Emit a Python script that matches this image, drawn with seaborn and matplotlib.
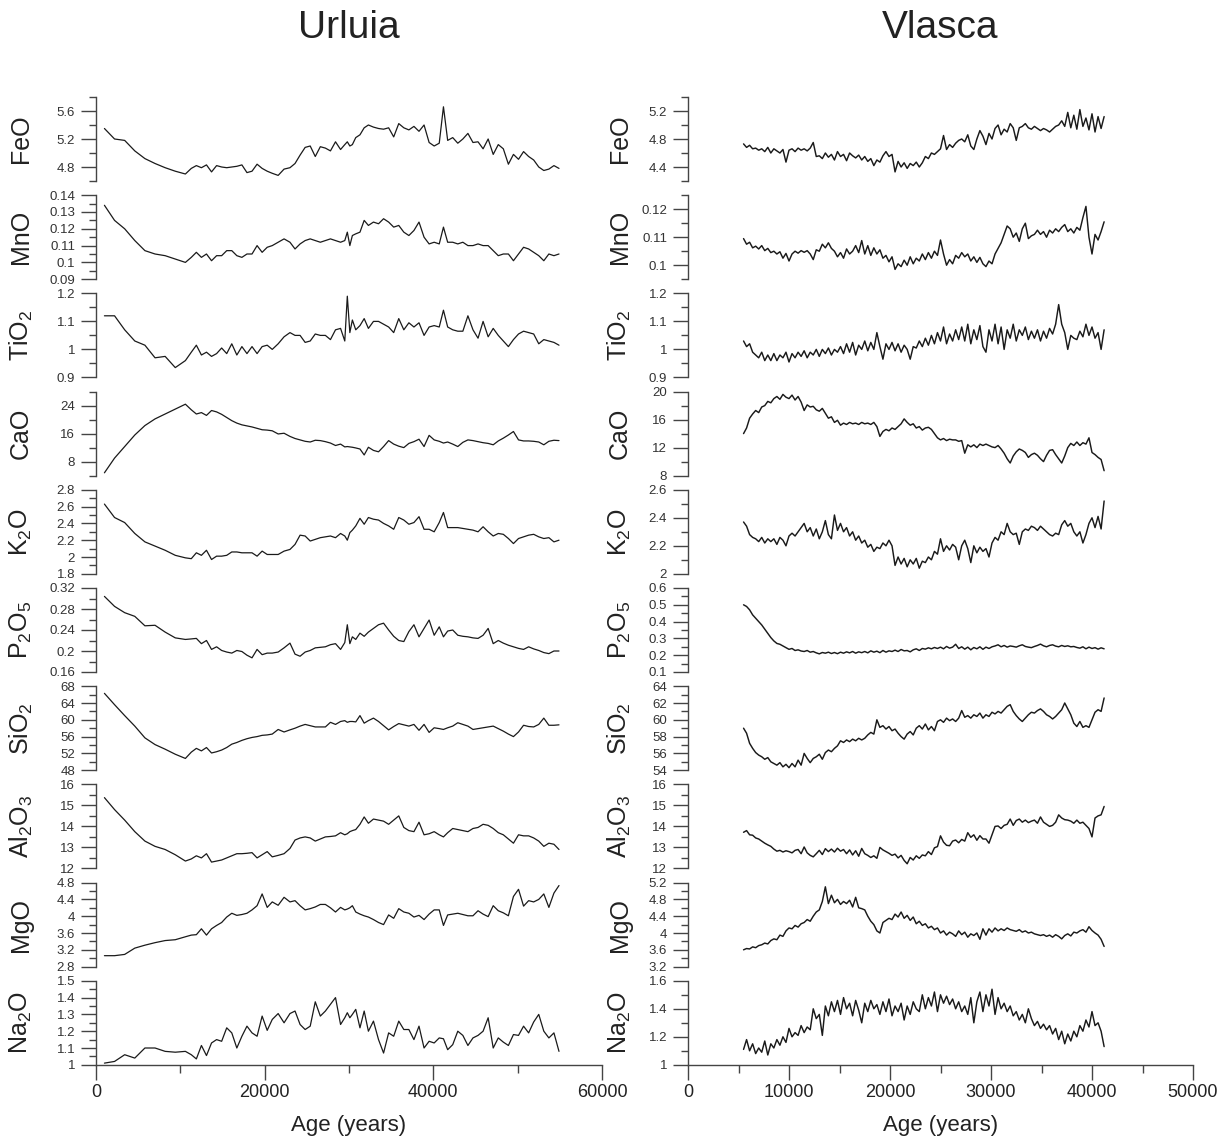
import matplotlib.pyplot as plt
import seaborn as sns
import numpy as np
import pandas as pd
from matplotlib.ticker import MultipleLocator, FuncFormatter

sns.set_theme(style='ticks')
plt.rcParams['font.family'] = ['Liberation Sans', 'DejaVu Sans']
plt.rcParams['mathtext.default'] = 'regular'

# NOTE: element names, subscripts through mathtext
oxides = ['FeO', 'MnO', 'TiO$_2$', 'CaO', 'K$_2$O', 'P$_2$O$_5$',
          'SiO$_2$', 'Al$_2$O$_3$', 'MgO', 'Na$_2$O']

# ---------------- Urluia (sample ages, years) ----------------
u_age = [1000, 2200, 3400, 4600, 5800, 7000, 8200, 9400, 10600, 11300,
         11900, 12500, 13100, 13700, 14300, 14900, 15500, 16100, 16700, 17300,
         17900, 18500, 19100, 19700, 20300, 20900, 21600, 22300, 23000, 23600,
         24200, 24800, 25400, 26000, 26600, 27200, 27800, 28400, 29000, 29500,
         29800, 30100, 30400, 30800, 31300, 31800, 32300, 32900, 33500, 34100,
         34700, 35300, 35900, 36500, 37100, 37700, 38300, 38900, 39500, 40100,
         40700, 41200, 41700, 42300, 42900, 43500, 44100, 44700, 45300, 45900,
         46500, 47100, 47700, 48300, 48900, 49500, 50100, 50700, 51300, 51900,
         52500, 53100, 53700, 54300, 54900]

u_feo = [5.35, 5.20, 5.18, 5.03, 4.92, 4.85, 4.79, 4.74, 4.70, 4.78,
         4.82, 4.79, 4.83, 4.73, 4.82, 4.80, 4.79, 4.80, 4.81, 4.83,
         4.72, 4.74, 4.84, 4.78, 4.74, 4.71, 4.68, 4.77, 4.79, 4.85,
         4.97, 5.08, 5.10, 4.95, 5.09, 5.07, 5.03, 5.16, 5.05, 5.12,
         5.16, 5.10, 5.12, 5.22, 5.26, 5.36, 5.40, 5.37, 5.35, 5.34,
         5.36, 5.23, 5.42, 5.36, 5.33, 5.38, 5.31, 5.40, 5.15, 5.10,
         5.14, 5.66, 5.18, 5.22, 5.14, 5.20, 5.28, 5.15, 5.16, 5.06,
         5.20, 4.98, 5.12, 5.06, 4.84, 4.98, 4.91, 5.02, 4.95, 4.90,
         4.80, 4.75, 4.77, 4.82, 4.78]
u_mno = [0.134, 0.125, 0.120, 0.113, 0.107, 0.105, 0.104, 0.102, 0.100, 0.103,
         0.106, 0.103, 0.105, 0.101, 0.104, 0.104, 0.107, 0.107, 0.104, 0.103,
         0.105, 0.105, 0.110, 0.106, 0.109, 0.110, 0.112, 0.114, 0.112, 0.108,
         0.111, 0.113, 0.114, 0.113, 0.112, 0.113, 0.114, 0.113, 0.112, 0.113,
         0.118, 0.110, 0.116, 0.117, 0.118, 0.125, 0.122, 0.124, 0.123, 0.126,
         0.124, 0.121, 0.122, 0.118, 0.116, 0.119, 0.124, 0.115, 0.111, 0.112,
         0.111, 0.121, 0.112, 0.112, 0.111, 0.112, 0.110, 0.110, 0.111, 0.110,
         0.110, 0.107, 0.104, 0.105, 0.105, 0.101, 0.105, 0.109, 0.108, 0.106,
         0.104, 0.101, 0.105, 0.104, 0.105]
u_tio2 = [1.12, 1.12, 1.07, 1.03, 1.015, 0.97, 0.975, 0.935, 0.96, 0.99,
          1.015, 0.98, 0.99, 0.975, 0.985, 1.005, 0.985, 1.02, 0.98, 1.01,
          0.985, 1.01, 0.985, 1.01, 1.015, 1.0, 1.02, 1.045, 1.06, 1.05,
          1.05, 1.025, 1.03, 1.055, 1.05, 1.05, 1.035, 1.07, 1.075, 1.03,
          1.19, 1.06, 1.105, 1.07, 1.085, 1.11, 1.075, 1.10, 1.10, 1.09,
          1.08, 1.06, 1.11, 1.07, 1.095, 1.08, 1.095, 1.05, 1.08, 1.085,
          1.08, 1.14, 1.08, 1.07, 1.065, 1.065, 1.12, 1.07, 1.04, 1.10,
          1.045, 1.075, 1.05, 1.03, 1.01, 1.035, 1.055, 1.065, 1.06, 1.055,
          1.02, 1.035, 1.03, 1.025, 1.015]
u_cao = [4.8, 9.0, 12.3, 15.6, 18.3, 20.2, 21.6, 23.0, 24.4, 22.8,
         21.6, 22.0, 21.2, 22.6, 22.2, 21.5, 20.6, 19.7, 19.0, 18.5,
         18.2, 17.9, 17.5, 17.1, 17.0, 16.8, 15.9, 16.1, 15.2, 14.6,
         14.2, 13.8, 13.6, 14.1, 14.0, 13.7, 13.3, 12.6, 13.0, 12.2,
         12.3, 12.2, 12.1, 11.9, 11.6, 9.9, 12.1, 11.2, 10.8, 12.3,
         14.0, 13.0, 12.4, 12.0, 13.2, 13.7, 14.4, 12.3, 15.5, 14.2,
         13.8, 13.3, 13.6, 13.0, 12.3, 13.5, 14.2, 14.0, 13.7, 13.4,
         13.2, 12.8, 13.9, 14.7, 15.6, 16.6, 14.2, 13.9, 13.9, 13.8,
         13.6, 12.8, 13.8, 14.1, 14.0]
u_k2o = [2.63, 2.47, 2.41, 2.28, 2.18, 2.13, 2.08, 2.02, 1.99, 1.98,
         2.05, 2.02, 2.08, 1.97, 2.01, 2.01, 2.02, 2.06, 2.06, 2.05,
         2.05, 2.05, 2.01, 2.07, 2.03, 2.03, 2.03, 2.07, 2.09, 2.15,
         2.26, 2.25, 2.19, 2.21, 2.23, 2.24, 2.25, 2.23, 2.28, 2.25,
         2.20, 2.29, 2.32, 2.37, 2.46, 2.39, 2.47, 2.45, 2.44, 2.40,
         2.37, 2.33, 2.47, 2.44, 2.39, 2.41, 2.48, 2.33, 2.33, 2.30,
         2.41, 2.53, 2.35, 2.35, 2.35, 2.34, 2.33, 2.32, 2.30, 2.36,
         2.30, 2.25, 2.28, 2.27, 2.22, 2.16, 2.22, 2.24, 2.26, 2.27,
         2.24, 2.22, 2.23, 2.18, 2.20]
u_p2o5 = [0.304, 0.285, 0.273, 0.266, 0.248, 0.249, 0.236, 0.225, 0.222, 0.223,
          0.224, 0.214, 0.220, 0.203, 0.208, 0.201, 0.198, 0.196, 0.201, 0.199,
          0.192, 0.187, 0.203, 0.193, 0.196, 0.196, 0.198, 0.206, 0.215, 0.194,
          0.190, 0.198, 0.201, 0.206, 0.207, 0.208, 0.212, 0.214, 0.203, 0.216,
          0.250, 0.214, 0.227, 0.222, 0.234, 0.228, 0.236, 0.243, 0.250, 0.253,
          0.240, 0.228, 0.220, 0.218, 0.237, 0.250, 0.227, 0.243, 0.259, 0.230,
          0.246, 0.227, 0.238, 0.240, 0.230, 0.228, 0.227, 0.225, 0.224, 0.230,
          0.243, 0.214, 0.220, 0.215, 0.211, 0.208, 0.205, 0.203, 0.208, 0.204,
          0.201, 0.197, 0.195, 0.200, 0.200]
u_sio2 = [66.3, 63.6, 61.0, 58.5, 55.7, 54.1, 53.0, 51.8, 50.8, 52.3,
          53.2, 52.6, 53.4, 52.1, 52.4, 52.8, 53.4, 54.2, 54.6, 55.1,
          55.5, 55.8, 56.0, 56.3, 56.4, 56.6, 57.7, 57.1, 57.6, 58.0,
          58.5, 58.9, 58.6, 58.3, 58.3, 58.3, 59.4, 58.9, 59.6, 59.8,
          59.4, 59.6, 59.6, 59.5, 61.0, 59.2, 59.8, 60.4, 59.6, 58.6,
          57.6, 58.4, 59.1, 58.8, 58.5, 58.9, 57.5, 58.9, 57.0, 58.1,
          57.9, 57.7, 58.1, 58.5, 59.3, 58.9, 58.5, 57.7, 57.9, 58.1,
          58.3, 58.5, 57.9, 57.3, 56.6, 56.0, 57.1, 58.7, 58.4, 58.3,
          58.9, 60.4, 58.7, 58.7, 58.8]
u_al2o3 = [15.37, 14.8, 14.3, 13.75, 13.3, 13.05, 12.9, 12.65, 12.35, 12.45,
           12.6, 12.5, 12.7, 12.3, 12.35, 12.4, 12.5, 12.6, 12.7, 12.7,
           12.72, 12.75, 12.5, 12.65, 12.8, 12.55, 12.62, 12.7, 12.95, 13.35,
           13.45, 13.5, 13.45, 13.3, 13.4, 13.5, 13.52, 13.55, 13.7, 13.6,
           13.65, 13.75, 13.8, 13.85, 14.1, 14.45, 14.15, 14.35, 14.3, 14.25,
           14.1, 14.3, 14.5, 13.95, 13.8, 13.75, 14.2, 13.6, 13.65, 13.75,
           13.6, 13.5, 13.7, 13.9, 13.85, 13.8, 13.75, 13.9, 13.95, 14.1,
           14.05, 13.9, 13.7, 13.6, 13.4, 13.2, 13.6, 13.55, 13.55, 13.45,
           13.3, 13.05, 13.2, 13.15, 12.9]
u_mgo = [3.06, 3.06, 3.09, 3.24, 3.31, 3.37, 3.42, 3.44, 3.51, 3.55,
         3.56, 3.70, 3.55, 3.70, 3.78, 3.85, 3.98, 4.07, 4.02, 4.04,
         4.07, 4.15, 4.25, 4.53, 4.21, 4.34, 4.26, 4.45, 4.34, 4.37,
         4.25, 4.15, 4.18, 4.22, 4.28, 4.28, 4.20, 4.10, 4.21, 4.15,
         4.17, 4.20, 4.25, 4.10, 4.05, 4.01, 3.98, 3.92, 3.85, 3.80,
         4.03, 3.95, 4.18, 4.10, 4.07, 3.98, 4.02, 3.92, 4.05, 4.15,
         4.15, 3.78, 4.03, 4.05, 4.07, 4.04, 4.01, 4.01, 4.13, 4.05,
         3.99, 4.25, 4.13, 4.08, 4.01, 4.47, 4.64, 4.24, 4.37, 4.34,
         4.40, 4.53, 4.21, 4.55, 4.73]
u_na2o = [1.01, 1.02, 1.06, 1.04, 1.10, 1.10, 1.08, 1.075, 1.08, 1.06,
          1.035, 1.115, 1.055, 1.13, 1.15, 1.14, 1.22, 1.19, 1.10, 1.17,
          1.23, 1.19, 1.17, 1.29, 1.205, 1.27, 1.305, 1.25, 1.305, 1.32,
          1.24, 1.21, 1.23, 1.375, 1.29, 1.32, 1.36, 1.40, 1.24, 1.28,
          1.31, 1.28, 1.30, 1.33, 1.22, 1.32, 1.20, 1.26, 1.15, 1.07,
          1.19, 1.17, 1.26, 1.21, 1.21, 1.15, 1.23, 1.10, 1.14, 1.13,
          1.16, 1.155, 1.09, 1.12, 1.20, 1.175, 1.115, 1.16, 1.175, 1.20,
          1.28, 1.10, 1.16, 1.135, 1.115, 1.18, 1.175, 1.23, 1.19, 1.255,
          1.30, 1.20, 1.16, 1.19, 1.08]

# ---------------- Vlasca (regularly sampled record, every 300 yr) ----------------
v_age = np.arange(5500, 41300, 300)

v_feo = [4.73, 4.68, 4.71, 4.66, 4.67, 4.64, 4.66, 4.62, 4.68, 4.60,
         4.66, 4.63, 4.60, 4.65, 4.47, 4.64, 4.66, 4.62, 4.67, 4.64,
         4.66, 4.63, 4.67, 4.75, 4.55, 4.56, 4.52, 4.60, 4.54, 4.58,
         4.50, 4.62, 4.55, 4.58, 4.49, 4.60, 4.56, 4.53, 4.57, 4.50,
         4.55, 4.48, 4.52, 4.42, 4.50, 4.47, 4.56, 4.62, 4.55, 4.58,
         4.33, 4.48, 4.40, 4.46, 4.38, 4.45, 4.42, 4.47, 4.40, 4.46,
         4.55, 4.52, 4.60, 4.58, 4.62, 4.66, 4.85, 4.65, 4.72, 4.68,
         4.74, 4.78, 4.80, 4.76, 4.86, 4.70, 4.65, 4.80, 4.92, 4.84,
         4.72, 4.88, 4.80, 4.95, 5.00, 4.86, 4.94, 4.90, 5.02, 4.96,
         4.78, 4.96, 4.98, 5.02, 4.96, 4.94, 4.98, 4.95, 4.92, 4.95,
         4.93, 4.90, 4.94, 4.98, 5.00, 5.06, 4.98, 5.18, 4.96, 5.14,
         4.94, 5.22, 4.98, 5.10, 4.93, 5.16, 4.90, 5.12, 4.95, 5.12]
v_mno = [0.1095, 0.1075, 0.1082, 0.1062, 0.1068, 0.1058, 0.1070, 0.1052, 0.1060, 0.1045,
         0.1050, 0.1040, 0.1048, 0.1025, 0.1042, 0.1015, 0.1040, 0.1050, 0.1043, 0.1052,
         0.1046, 0.1052, 0.1040, 0.1020, 0.1055, 0.1050, 0.1075, 0.1062, 0.1080, 0.1060,
         0.1050, 0.1030, 0.1045, 0.1025, 0.1058, 0.1040, 0.1050, 0.1070, 0.1045, 0.1088,
         0.1040, 0.1070, 0.1035, 0.1062, 0.1040, 0.1055, 0.1025, 0.1035, 0.1012, 0.1030,
         0.0985, 0.1005, 0.0995, 0.1018, 0.1000, 0.1030, 0.1005, 0.1025, 0.1015, 0.1040,
         0.1020, 0.1045, 0.1025, 0.1050, 0.1035, 0.1090, 0.1040, 0.1000, 0.1020, 0.1005,
         0.1035, 0.1025, 0.1045, 0.1030, 0.1040, 0.1015, 0.1030, 0.1010, 0.1028, 0.1005,
         0.0995, 0.1015, 0.1005, 0.1040, 0.1060, 0.1080, 0.1110, 0.1140, 0.1130, 0.1100,
         0.1115, 0.1085, 0.1130, 0.1150, 0.1095, 0.1105, 0.1110, 0.1125, 0.1110, 0.1120,
         0.1100, 0.1125, 0.1115, 0.1130, 0.1120, 0.1135, 0.1145, 0.1120, 0.1130, 0.1115,
         0.1135, 0.1125, 0.1170, 0.1210, 0.1100, 0.1040, 0.1110, 0.1090, 0.1120, 0.1155]
v_tio2 = [1.03, 1.01, 1.02, 0.99, 0.98, 0.97, 0.99, 0.96, 0.98, 0.96,
          0.985, 0.96, 0.98, 0.97, 0.99, 0.955, 0.985, 0.97, 0.99, 0.975,
          0.995, 0.97, 0.99, 0.98, 1.00, 0.975, 1.00, 0.985, 1.005, 0.98,
          1.00, 0.99, 1.01, 0.985, 1.02, 0.99, 1.025, 0.98, 1.015, 1.00,
          1.03, 0.995, 1.025, 1.00, 1.06, 1.01, 0.965, 1.02, 1.00, 1.025,
          0.995, 1.02, 0.99, 1.015, 1.00, 0.965, 1.01, 1.005, 1.03, 1.01,
          1.04, 1.015, 1.05, 1.02, 1.06, 1.03, 1.08, 1.02, 1.055, 1.03,
          1.07, 1.035, 1.08, 1.03, 1.09, 1.02, 1.07, 1.035, 1.085, 1.01,
          0.99, 1.07, 1.03, 1.09, 1.02, 1.08, 1.00, 1.07, 1.04, 1.09,
          1.03, 1.07, 1.05, 1.08, 1.035, 1.065, 1.04, 1.07, 1.03, 1.065,
          1.04, 1.075, 1.055, 1.09, 1.16, 1.09, 1.06, 1.00, 1.05, 1.04,
          1.035, 1.065, 1.045, 1.09, 1.05, 1.08, 1.04, 1.06, 1.00, 1.07]
v_cao = [14.0, 14.8, 16.2, 16.8, 17.3, 17.0, 17.8, 18.0, 18.6, 18.4,
         19.0, 19.3, 18.9, 19.6, 19.2, 19.0, 19.5, 18.8, 19.3, 18.5,
         17.3, 18.1, 17.8, 17.9, 17.4, 17.2, 17.6, 16.9, 16.2, 16.4,
         15.6, 15.9, 15.2, 15.5, 15.3, 15.6, 15.4, 15.5, 15.3, 15.6,
         15.4, 15.5, 15.3, 15.6, 15.0, 13.6, 14.3, 14.6, 14.4, 14.8,
         14.6, 15.0, 15.4, 16.1, 15.6, 15.2, 15.4, 14.8, 15.0, 14.5,
         14.8, 14.9, 14.6, 14.0, 13.4, 13.1, 13.3, 13.0, 13.2, 13.1,
         13.1, 12.9, 13.0, 11.2, 12.4, 12.1, 12.4, 12.0, 12.5, 12.3,
         12.5, 12.3, 12.1, 12.0, 12.3, 11.8, 11.2, 10.4, 9.8, 10.8,
         11.4, 11.8, 11.6, 11.3, 10.6, 11.0, 11.2, 10.9, 10.4, 10.0,
         10.9, 11.6, 11.7, 11.0, 10.4, 9.8, 10.8, 12.0, 12.6, 12.3,
         12.8, 12.3, 12.7, 12.5, 13.4, 11.3, 11.0, 10.6, 10.3, 8.7]
v_k2o = [2.37, 2.34, 2.28, 2.26, 2.25, 2.23, 2.26, 2.22, 2.25, 2.23,
         2.25, 2.21, 2.26, 2.24, 2.20, 2.27, 2.29, 2.27, 2.30, 2.33,
         2.36, 2.30, 2.33, 2.27, 2.32, 2.25, 2.30, 2.38, 2.28, 2.25,
         2.42, 2.31, 2.36, 2.30, 2.33, 2.27, 2.30, 2.24, 2.27, 2.22,
         2.24, 2.19, 2.21, 2.16, 2.19, 2.18, 2.22, 2.20, 2.24, 2.20,
         2.06, 2.12, 2.07, 2.11, 2.05, 2.10, 2.07, 2.11, 2.04, 2.09,
         2.08, 2.12, 2.10, 2.16, 2.14, 2.25, 2.16, 2.20, 2.17, 2.21,
         2.19, 2.10, 2.20, 2.24, 2.18, 2.08, 2.20, 2.15, 2.19, 2.16,
         2.18, 2.12, 2.22, 2.26, 2.24, 2.30, 2.28, 2.36, 2.30, 2.28,
         2.29, 2.21, 2.30, 2.32, 2.31, 2.34, 2.33, 2.31, 2.34, 2.32,
         2.30, 2.28, 2.27, 2.29, 2.28, 2.35, 2.38, 2.34, 2.36, 2.30,
         2.27, 2.30, 2.22, 2.28, 2.36, 2.40, 2.33, 2.41, 2.32, 2.52]
v_p2o5 = [0.50, 0.49, 0.47, 0.44, 0.42, 0.40, 0.38, 0.355, 0.33, 0.305,
          0.285, 0.27, 0.265, 0.255, 0.245, 0.235, 0.24, 0.228, 0.232, 0.225,
          0.222, 0.228, 0.218, 0.222, 0.214, 0.208, 0.216, 0.212, 0.218, 0.21,
          0.216, 0.209, 0.218, 0.212, 0.22, 0.214, 0.222, 0.212, 0.22, 0.215,
          0.222, 0.214, 0.226, 0.218, 0.224, 0.215, 0.228, 0.218, 0.226, 0.222,
          0.23, 0.222, 0.234, 0.226, 0.228, 0.22, 0.232, 0.238, 0.228, 0.24,
          0.236, 0.244, 0.238, 0.246, 0.24, 0.248, 0.238, 0.252, 0.242, 0.248,
          0.265, 0.24, 0.25, 0.236, 0.248, 0.232, 0.246, 0.238, 0.25, 0.235,
          0.248, 0.24, 0.25, 0.255, 0.262, 0.25, 0.258, 0.248, 0.255, 0.252,
          0.248, 0.256, 0.262, 0.252, 0.248, 0.245, 0.252, 0.258, 0.266, 0.256,
          0.25, 0.258, 0.262, 0.254, 0.25, 0.258, 0.252, 0.256, 0.25, 0.252,
          0.246, 0.242, 0.25, 0.238, 0.248, 0.24, 0.245, 0.236, 0.244, 0.238]
v_sio2 = [59.0, 58.4, 57.2, 56.6, 56.1, 55.8, 55.6, 55.3, 55.5, 55.0,
          54.8, 54.6, 54.9, 54.4, 54.7, 54.3, 54.8, 54.4, 55.2, 54.6,
          56.0, 55.4, 54.9, 55.4, 55.6, 55.9, 55.3, 56.1, 56.4, 56.2,
          56.6, 56.9, 57.5, 57.3, 57.6, 57.4, 57.7, 57.5, 57.8, 57.6,
          57.8, 58.2, 58.5, 58.3, 60.0, 59.1, 59.3, 58.9, 59.2, 58.7,
          58.9, 58.4, 58.0, 57.7, 58.3, 58.6, 58.2, 59.0, 59.3, 58.9,
          59.5, 58.8, 59.2, 58.7, 59.8, 60.0, 59.7, 60.2, 59.9, 60.1,
          59.8, 60.2, 61.1, 60.3, 60.5, 60.2, 60.6, 60.4, 60.8, 60.2,
          60.6, 60.4, 60.9, 60.7, 61.0, 60.8, 61.2, 61.6, 61.8, 61.0,
          60.5, 60.1, 59.8, 60.2, 60.6, 60.9, 60.8, 61.1, 61.3, 61.0,
          60.6, 60.4, 60.1, 60.4, 60.8, 61.2, 62.0, 61.3, 60.6, 59.6,
          59.2, 59.8, 59.1, 59.3, 59.1, 60.0, 60.9, 61.2, 61.0, 62.6]
v_al2o3 = [13.72, 13.80, 13.60, 13.58, 13.45, 13.40, 13.30, 13.20, 13.12, 13.05,
           12.92, 12.82, 12.86, 12.78, 12.84, 12.80, 12.74, 12.86, 12.90, 12.70,
           13.02, 12.74, 12.62, 12.55, 12.70, 12.86, 12.66, 12.94, 12.80, 12.92,
           12.78, 12.96, 12.82, 12.90, 12.70, 12.88, 12.64, 12.84, 12.58, 12.95,
           12.70, 12.62, 12.52, 12.60, 12.48, 13.00, 12.88, 12.80, 12.72, 12.62,
           12.68, 12.50, 12.62, 12.38, 12.22, 12.52, 12.40, 12.60, 12.48, 12.64,
           12.60, 12.80, 12.66, 12.98, 13.04, 13.55, 13.25, 13.10, 13.08, 13.30,
           13.35, 13.22, 13.38, 13.30, 13.70, 13.48, 13.60, 13.34, 13.56, 13.40,
           13.40, 13.20, 13.60, 14.00, 14.02, 13.90, 14.05, 14.10, 14.35, 14.05,
           14.28, 14.35, 14.20, 14.30, 14.18, 14.25, 14.30, 14.15, 14.45, 14.20,
           14.10, 14.00, 14.05, 14.20, 14.55, 14.40, 14.32, 14.30, 14.25, 14.15,
           14.30, 14.15, 14.20, 14.05, 13.90, 13.50, 14.40, 14.50, 14.55, 14.95]
v_mgo = [3.60, 3.63, 3.62, 3.67, 3.65, 3.70, 3.72, 3.76, 3.74, 3.82,
         3.86, 3.84, 3.95, 3.92, 4.05, 4.12, 4.10, 4.18, 4.14, 4.22,
         4.25, 4.32, 4.28, 4.40, 4.50, 4.55, 4.75, 5.10, 4.70, 4.90,
         4.72, 4.80, 4.68, 4.75, 4.70, 4.78, 4.62, 4.85, 4.60, 4.58,
         4.55, 4.40, 4.28, 4.20, 4.05, 4.00, 4.25, 4.30, 4.35, 4.32,
         4.45, 4.38, 4.50, 4.35, 4.42, 4.30, 4.38, 4.22, 4.28, 4.18,
         4.22, 4.12, 4.16, 4.08, 4.12, 4.00, 4.05, 3.95, 4.02, 3.98,
         3.92, 4.05, 3.96, 4.02, 3.90, 3.98, 3.94, 4.00, 3.85, 4.10,
         3.95, 4.10, 4.02, 4.12, 4.05, 4.10, 4.06, 4.12, 4.08, 4.06,
         4.04, 4.08, 4.02, 4.05, 4.00, 4.02, 3.98, 3.96, 3.94, 3.96,
         3.92, 3.95, 3.90, 3.96, 3.92, 3.86, 3.94, 3.98, 3.93, 4.02,
         4.00, 4.05, 4.08, 4.02, 4.15, 4.06, 4.00, 3.95, 3.85, 3.68]
v_na2o = [1.11, 1.18, 1.10, 1.15, 1.08, 1.12, 1.09, 1.17, 1.07, 1.15,
          1.12, 1.18, 1.14, 1.20, 1.16, 1.26, 1.20, 1.23, 1.21, 1.28,
          1.23, 1.27, 1.25, 1.40, 1.33, 1.36, 1.21, 1.42, 1.35, 1.45,
          1.38, 1.46, 1.36, 1.48, 1.40, 1.44, 1.35, 1.46, 1.39, 1.30,
          1.44, 1.38, 1.46, 1.40, 1.43, 1.36, 1.45, 1.38, 1.47, 1.35,
          1.42, 1.38, 1.44, 1.32, 1.42, 1.36, 1.45, 1.40, 1.38, 1.50,
          1.40, 1.48, 1.42, 1.52, 1.38, 1.50, 1.44, 1.49, 1.43, 1.47,
          1.40, 1.45, 1.38, 1.42, 1.36, 1.48, 1.30, 1.45, 1.52, 1.38,
          1.50, 1.42, 1.54, 1.36, 1.48, 1.40, 1.44, 1.38, 1.42, 1.35,
          1.38, 1.32, 1.36, 1.30, 1.40, 1.33, 1.28, 1.31, 1.26, 1.29,
          1.25, 1.28, 1.22, 1.26, 1.18, 1.24, 1.15, 1.22, 1.17, 1.24,
          1.20, 1.28, 1.24, 1.32, 1.27, 1.38, 1.28, 1.30, 1.24, 1.13]

# axis limits and (labelled, unlabelled) tick steps per panel
u_lims = [(4.6, 5.8), (0.09, 0.14), (0.9, 1.2), (4, 28), (1.8, 2.8),
          (0.16, 0.32), (48, 68), (12, 16), (2.8, 4.8), (1, 1.5)]
u_steps = [(0.4, 0.2), (0.01, 0.005), (0.1, 0.05), (8, 4), (0.2, 0.1),
           (0.04, 0.02), (4, 2), (1, 0.5), (0.4, 0.2), (0.1, 0.05)]
v_lims = [(4.2, 5.4), (0.095, 0.125), (0.9, 1.2), (8, 20), (2, 2.6),
          (0.1, 0.6), (54, 64), (12, 16), (3.2, 5.2), (1, 1.6)]
v_steps = [(0.4, 0.2), (0.01, 0.005), (0.1, 0.05), (4, 2), (0.2, 0.1),
           (0.1, 0.05), (2, 1), (1, 0.5), (0.4, 0.2), (0.2, 0.1)]

W, H = 1221, 1144
fig = plt.figure(figsize=(W / 100, H / 100), dpi=100)
axcol = '#444444'
fmt_y = FuncFormatter(lambda v, p: f'{v:g}')
fmt_x = FuncFormatter(lambda v, p: f'{int(round(v))}')


def column(ages, series, lims, steps, left, width, xmax, xstep, lab_x, title, lw):
    for i in range(10):
        top = 97 + i * 98.2
        ax = fig.add_axes([left / W, 1 - (top + 84) / H, width / W, 84 / H])
        ax.patch.set_alpha(0)
        df = pd.DataFrame({'age': ages, 'val': series[i]})
        sns.lineplot(data=df, x='age', y='val', ax=ax, color='#1a1a1a',
                     linewidth=lw, estimator=None, sort=False)
        ax.set_xlim(0, xmax)
        ax.set_ylim(*lims[i])
        ax.set_xlabel('')
        ax.set_ylabel('')
        for s in ['top', 'right']:
            ax.spines[s].set_visible(False)
        ax.spines['left'].set_color(axcol)
        ax.spines['left'].set_linewidth(1.0)
        ax.yaxis.set_major_locator(MultipleLocator(steps[i][0]))
        ax.yaxis.set_minor_locator(MultipleLocator(steps[i][1]))
        ax.yaxis.set_major_formatter(fmt_y)
        ax.tick_params(axis='y', which='major', length=11, width=1,
                       color=axcol, labelsize=9.5, labelcolor='#333333', pad=4)
        ax.tick_params(axis='y', which='minor', length=5, width=1, color=axcol)
        ax.text(lab_x, 0.5, oxides[i], transform=ax.transAxes, rotation=90,
                ha='center', va='center', fontsize=18, color='#222222')
        if i < 9:
            ax.spines['bottom'].set_visible(False)
            ax.tick_params(axis='x', which='both', bottom=False, labelbottom=False)
        else:
            ax.spines['bottom'].set_color(axcol)
            ax.spines['bottom'].set_linewidth(1.0)
            ax.xaxis.set_major_locator(MultipleLocator(xstep))
            ax.xaxis.set_minor_locator(MultipleLocator(xstep / 2))
            ax.xaxis.set_major_formatter(fmt_x)
            ax.tick_params(axis='x', which='major', length=10.5, width=1,
                           color=axcol, labelsize=13, labelcolor='#222222', pad=3)
            ax.tick_params(axis='x', which='minor', length=5.5, width=1, color=axcol)
    cx = (left + width / 2) / W
    fig.text(cx, 1 - 28 / H, title, ha='center', va='center', fontsize=28, color='#222222')
    fig.text(cx, 1 - 1126 / H, 'Age (years)', ha='center', va='center',
             fontsize=16, color='#222222')


column(u_age, [u_feo, u_mno, u_tio2, u_cao, u_k2o, u_p2o5, u_sio2, u_al2o3, u_mgo, u_na2o],
       u_lims, u_steps, 96, 506, 60000, 20000, -0.148, 'Urluia', 0.9)
column(v_age, [v_feo, v_mno, v_tio2, v_cao, v_k2o, v_p2o5, v_sio2, v_al2o3, v_mgo, v_na2o],
       v_lims, v_steps, 688, 505, 50000, 10000, -0.135, 'Vlasca', 1.05)

plt.savefig('out.png', dpi=100)
plt.close()
